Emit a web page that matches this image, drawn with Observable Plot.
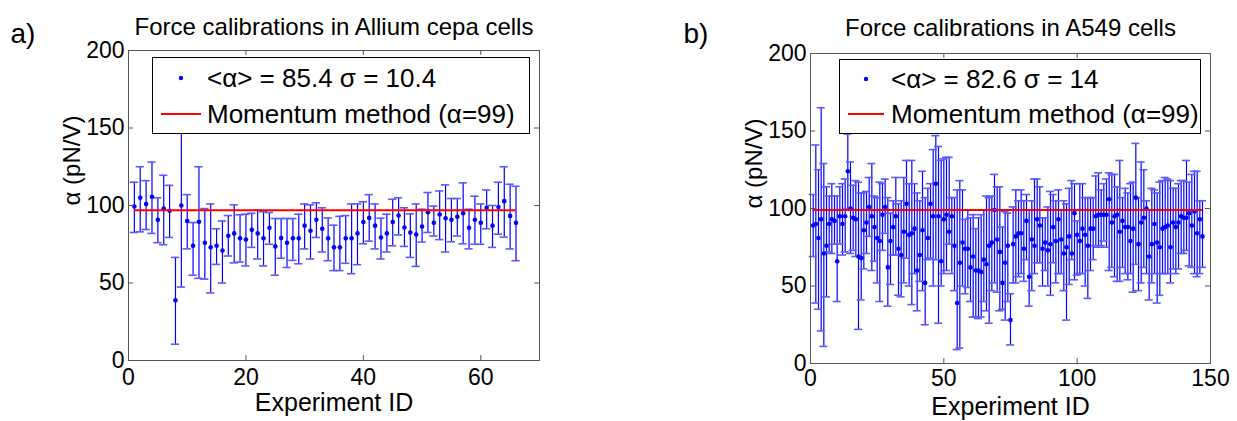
<!DOCTYPE html>
<html>
<head>
<meta charset="utf-8">
<script src="https://cdn.jsdelivr.net/npm/d3@7"></script>
<script src="https://cdn.jsdelivr.net/npm/@observablehq/plot@0.6"></script>
<style>
  body { margin: 0; background: #fff; }
  #wrap { position: relative; width: 1237px; height: 421px; overflow: hidden; background: #fff;
          font-family: Arial, "Liberation Sans", sans-serif; }
  #wrap > svg { position: absolute; top: 0; }
  .legend { position: absolute; border: 1px solid #000; background: #fff; box-sizing: border-box; }
  .legend span { position: absolute; white-space: nowrap; font-size: 26px; line-height: 26px; color: #000; }
  .legend svg { position: absolute; left: 0; top: 0; }
</style>
</head>
<body>
<div id="wrap"></div>
<script>
// ---------- Panel a: Allium cepa ----------
const aTitle = "Force calibrations in Allium cepa cells";
const aLetter = "a)";
const aAlpha = [99.4,105,101,105.6,90.8,98,96.6,38.8,100,90,74,89.5,76,73,74,71,80.5,82,78.8,78,
  84.3,82,78.8,85.6,73.6,79,76,78.8,78.8,87,83.7,90.8,85,78.8,73,73,78.8,78.8,82,89.3,
  92,87,79.4,82,89.3,93.5,85.8,82.6,81.3,86.5,95.7,88.8,94.2,91.8,90.8,92.7,95,85.6,90.8,88.8,
  98.5,87,99,102.8,93.3,88.8];
const aUpper = [115,125,116,128,105,119.5,113,66.5,152,107,89,125,98,101,85,90,93.5,100.4,94,94.4,
  95,97,96,95.5,91.6,91.6,91.6,91.6,94.4,101,100.4,101.7,98.5,92,87.3,93,93.5,101,101,102.4,
  107,101,91.8,94.4,104,105,98.5,94.6,101,97.6,108.4,99.6,109.4,113.3,104.5,104.5,114.6,97.6,106,101,
  110,100,115,125,113.7,112.4];
const aLower = [82.6,83,84.5,82,76,74.7,79.4,10.5,47.4,72,55,53,52.5,43.6,62,50,67.4,63,63.5,61,
  73,65.5,61,75,55,66,60,64.6,62.4,72,65.5,79.4,70,64.4,58,58,62.7,56,61.8,75.3,
  77,72,65.5,70,74,81,73.6,66.5,60.7,76.4,82.6,80.3,78,70,76.6,80.3,75.3,72,75,75,
  85,73,81.5,79.6,72,64.4];
const aRef = 97;
const aLegendMean = "<α> = 85.4 σ = 10.4";
const aXTicks = [0, 20, 40, 60];

// ---------- Panel b: A549 ----------
const bTitle = "Force calibrations in A549 cells";
const bLetter = "b)";
const bAlpha = [89,90,81,93,71,76,90,93,92,66, 95,90,95,124,100,94,93,69,68,86,
  91,101,95,88,81,79,96,101,62,79, 88,95,74,70,85,103,83,84,87,60,
  70,86,52,81,103,95,116,95,66,93, 96,85,95,76,39,65,78,74,74,62,
  69,60,60,59,67,64,76,78,99,80, 72,52,65,76,28,77,82,84,84,74,
  92,56,80,76,93,89,74,78,73,77, 88,79,93,80,71,75,82,71,97,83,
  79,87,83,76,87,87,95,96,96,96, 96,106,91,95,96,85,92,88,88,79,
  87,107,77,91,94,100,69,77,90,78, 75,87,88,89,75,91,88,91,95,94,
  94,97,89,98,84,93,82];
const bUpper = [109,141,125,165,129,114,108,116,108,108, 114,116,119,148,130,115,118,117,110,110,
  111,120,129,108,107,117,116,119,107,97, 105,120,103,105,120,131,116,131,116,110,
  105,124,107,113,116,138,147,140,131,132, 133,133,107,107,112,118,112,93,99,94,
  96,87,94,96,99,108,107,108,122,114, 114,88,98,97,45,101,112,105,112,105,
  109,99,105,119,119,114,94,94,101,111, 109,105,112,99,105,103,113,118,116,92,
  116,116,107,107,107,107,121,123,112,116, 119,123,122,122,114,131,107,113,110,116,
  117,142,107,130,125,105,99,113,112,110, 117,118,120,119,118,113,113,116,118,118,
  131,117,122,124,124,105,105];
const bLower = [69,39,35,21,11,43,72,71,77,40, 77,70,72,100,71,73,69,22,41,61,
  71,82,60,66,52,40,73,84,37,51, 70,70,44,43,52,68,50,38,58,34,
  53,47,25,67,68,50,67,26,50,58, 60,77,58,47,9,10,50,45,49,40,
  30,30,29,30,40,34,26,47,52,46, 34,35,28,40,12,52,52,56,58,53,
  67,37,47,58,65,65,50,60,50,44, 65,52,58,58,47,28,51,67,54,57,
  58,58,50,42,60,67,76,75,76,79, 75,60,62,56,53,53,62,58,54,58,
  46,64,47,52,62,58,41,52,58,39, 44,58,58,58,52,61,58,61,71,71,
  73,63,62,58,56,58,62];
const bRef = 99;
const bLegendMean = "<α> = 82.6 σ = 14";
const bXTicks = [0, 50, 100, 150];

// ---------- shared ----------
const yTicks = [0, 50, 100, 150, 200];
const xLabel = "Experiment ID";
const yLabel = "α (pN/V)";
const refLegend = "Momentum method (α=99)";

const FONT = "Arial, 'Liberation Sans', sans-serif";
const BLUE = "#0000ff";

function panel(cfg) {
  const data = cfg.alpha.map((v, i) => ({id: i + 1, v, hi: cfg.upper[i], lo: cfg.lower[i]}));
  const xMax = cfg.xDomain[1];
  const capHalf = cfg.capHalf;
  const tx = xMax * 5 / (cfg.width - cfg.ml - cfg.mr);  // tick length in x units (5 px)
  const ty = 200 * 5 / (421 - cfg.mt - cfg.mb);         // tick length in y units (5 px)
  const innerX = cfg.xTicks.filter(t => t > 0 && t < xMax);
  const innerY = yTicks.filter(t => t > 0 && t < 200);
  return Plot.plot({
    width: cfg.width, height: 421,
    marginLeft: cfg.ml, marginRight: cfg.mr, marginTop: cfg.mt, marginBottom: cfg.mb,
    style: {fontFamily: FONT, fontSize: "23px", color: "#000", background: "transparent", overflow: "visible"},
    x: {domain: cfg.xDomain, ticks: cfg.xTicks},
    y: {domain: [0, 200], ticks: yTicks},
    marks: [
      Plot.ruleX(data, {x: "id", y1: "lo", y2: "hi", stroke: "#0000ff", strokeWidth: 1.2}),
      Plot.ruleY(data, {y: "hi", x1: d => d.id - capHalf, x2: d => d.id + capHalf, stroke: "#5a5aff", strokeWidth: 1.6}),
      Plot.ruleY(data, {y: "lo", x1: d => d.id - capHalf, x2: d => d.id + capHalf, stroke: "#5a5aff", strokeWidth: 1.6}),
      Plot.dot(data, {x: "id", y: "v", r: 2.3, fill: BLUE, stroke: "none"}),
      Plot.ruleY([cfg.ref], {y: d => d, x1: 1, x2: data.length, stroke: "#ff0000", strokeWidth: 2}),
      Plot.frame({stroke: "#555", strokeWidth: 1}),
      Plot.ruleX(innerX, {x: d => d, y1: 0, y2: ty, stroke: "#555"}),
      Plot.ruleX(innerX, {x: d => d, y1: 200, y2: 200 - ty, stroke: "#555"}),
      Plot.ruleY(innerY, {y: d => d, x1: 0, x2: tx, stroke: "#555"}),
      Plot.ruleY(innerY, {y: d => d, x1: xMax, x2: xMax - tx, stroke: "#555"}),
      Plot.axisX({ticks: cfg.xTicks, tickSize: 0, tickPadding: cfg.tickPad, label: null, fontSize: 23}),
      Plot.axisY({ticks: yTicks, tickSize: 0, tickPadding: 4, label: null, fontSize: 23}),
      Plot.text([xLabel], {frameAnchor: "bottom", dy: cfg.xLabelDy, text: d => d, fontSize: 25, fill: "#000"}),
      Plot.text([yLabel], {frameAnchor: "left", dx: -56, rotate: -90, text: d => d, fontSize: 24, fill: "#000"}),
      Plot.text([cfg.title], {frameAnchor: "top", dy: cfg.titleDy, text: d => d, fontSize: 24, fill: "#000"}),
      Plot.text([cfg.letter], {frameAnchor: "top-left", dx: cfg.letterDx, dy: cfg.letterDy, textAnchor: "start", text: d => d, fontSize: 28, fill: "#000"})
    ]
  });
}

const wrap = document.getElementById("wrap");

const svgA = panel({alpha: aAlpha, upper: aUpper, lower: aLower, ref: aRef, xDomain: [0, 70], xTicks: aXTicks,
  width: 620, ml: 128, mr: 81, mt: 50, mb: 61, capHalf: 0.7, title: aTitle, letter: aLetter,
  tickPad: 8, xLabelDy: 50, titleDy: -33, letterDx: -118, letterDy: -27});
svgA.style.left = "0px";
wrap.appendChild(svgA);

const svgB = panel({alpha: bAlpha, upper: bUpper, lower: bLower, ref: bRef, xDomain: [0, 150], xTicks: bXTicks,
  width: 617, ml: 190, mr: 27, mt: 53, mb: 58, capHalf: 1.5, title: bTitle, letter: bLetter,
  tickPad: 6, xLabelDy: 51, titleDy: -35, letterDx: -127, letterDy: -30});
svgB.style.left = "620px";
wrap.appendChild(svgB);

function legend(o) {
  const div = document.createElement("div");
  div.className = "legend";
  Object.assign(div.style, {left: o.left + "px", top: o.top + "px", width: o.w + "px", height: o.h + "px"});
  const ns = "http://www.w3.org/2000/svg";
  const s = document.createElementNS(ns, "svg");
  s.setAttribute("width", o.w); s.setAttribute("height", o.h);
  const c = document.createElementNS(ns, "circle");
  c.setAttribute("cx", o.dotX); c.setAttribute("cy", o.row1); c.setAttribute("r", 2.2); c.setAttribute("fill", BLUE);
  const l = document.createElementNS(ns, "line");
  l.setAttribute("x1", o.lineX1); l.setAttribute("x2", o.lineX2); l.setAttribute("y1", o.row2); l.setAttribute("y2", o.row2);
  l.setAttribute("stroke", "#ff0000"); l.setAttribute("stroke-width", 2);
  s.appendChild(c); s.appendChild(l);
  div.appendChild(s);
  [[o.text1, o.row1], [refLegend, o.row2]].forEach(([t, y]) => {
    const sp = document.createElement("span");
    sp.textContent = t;
    sp.style.left = o.textX + "px";
    sp.style.top = (y - 13) + "px";
    div.appendChild(sp);
  });
  wrap.appendChild(div);
}

legend({left: 152, top: 57, w: 378, h: 77, row1: 20, row2: 56, dotX: 28, lineX1: 8, lineX2: 48, textX: 54, text1: aLegendMean});
legend({left: 839, top: 59, w: 362, h: 75, row1: 19, row2: 54, dotX: 26, lineX1: 8, lineX2: 44, textX: 51, text1: bLegendMean});
</script>
</body>
</html>
